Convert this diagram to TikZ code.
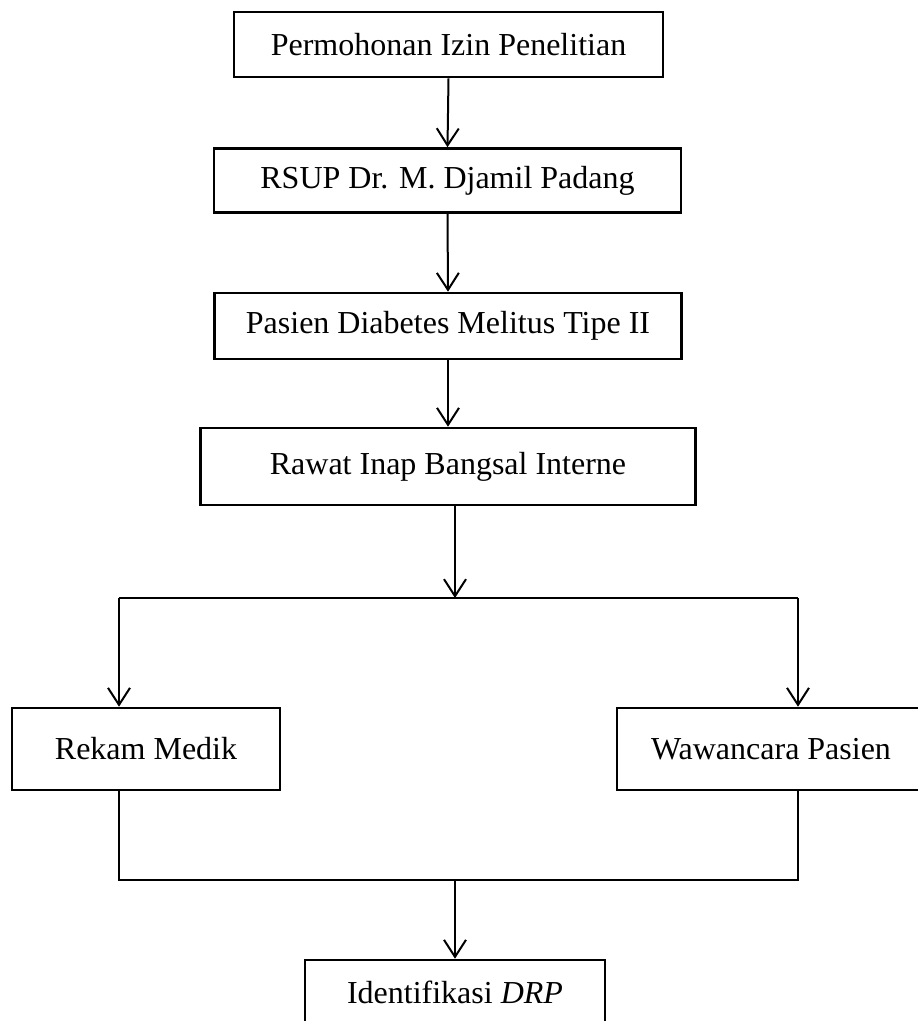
\documentclass[tikz,border=0pt]{standalone}
\usepackage{fontspec}
\setmainfont{Liberation Serif}
\usetikzlibrary{arrows.meta}
\begin{document}
\begin{tikzpicture}[x=1pt,y=-1pt,
  box/.style={draw=black,line width=2.6pt,fill=white,inner sep=0pt,
    font=\fontsize{32}{38}\selectfont,align=center},
  link/.style={draw=black,line width=2pt},
  arr/.style={link,-{Straight Barb[length=17pt,width=22pt,line width=2pt]}}]
\useasboundingbox (0,0) rectangle (918,1021);
\clip (0,0) rectangle (918,1021);
\node[box,minimum width=429pt,minimum height=65pt] (b1) at (448.5,44.5) {Permohonan Izin Penelitian};
\node[box,minimum width=467pt,minimum height=64pt] (b2) at (447.5,180.5) {RSUP Dr. M. Djamil Padang};
\node[box,minimum width=467pt,minimum height=66pt] (b3) at (448,326) {Pasien Diabetes Melitus Tipe II};
\node[box,minimum width=495pt,minimum height=77pt] (b4) at (448,466.5) {Rawat Inap Bangsal Interne};
\node[box,minimum width=268pt,minimum height=82pt] (b5) at (146,749) {Rekam Medik};
\node[box,minimum width=308pt,minimum height=82pt] (b6) at (771,749) {Wawancara Pasien};
\node[box,minimum width=300pt,minimum height=64pt] (b7) at (455,992) {Identifikasi \textit{DRP}};
\coordinate (j1) at (455,598);
\coordinate (jl) at (119,598);
\coordinate (jr) at (798,598);
\coordinate (kl) at (119,880);
\coordinate (kr) at (798,880);
\coordinate (k1) at (455,880);
\draw[arr] (b1.south) -- (b2.north);
\draw[arr] (b2.south) -- (b3.north);
\draw[arr] (b3.south) -- (b4.north);
\draw[arr] (b4.south -| j1) -- (j1);
\draw[link] (jl) -- (jr);
\draw[arr] (jl) -- (b5.north -| jl);
\draw[arr] (jr) -- (b6.north -| jr);
\draw[link] (b5.south -| kl) -- (kl) -- (kr) -- (b6.south -| kr);
\draw[arr] (k1) -- (b7.north);
\end{tikzpicture}
\end{document}
